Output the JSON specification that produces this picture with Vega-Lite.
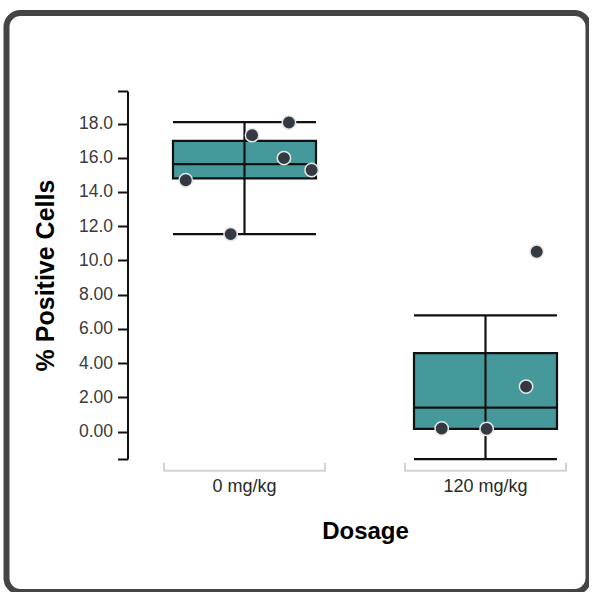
{
  "$schema": "https://vega.github.io/schema/vega-lite/v6.json",
  "autosize": "none",
  "padding": {"left": 6.5, "top": 13, "right": 0, "bottom": 0},
  "width": 582,
  "height": 579,
  "background": "white",
  "config": {
    "view": {"stroke": "#444444", "strokeWidth": 6, "cornerRadius": 14, "fill": "white"},
    "font": "Liberation Sans"
  },
  "datasets": {
    "boxes": [
      {"Dosage": "0 mg/kg", "lower": 11.54, "q1": 14.8, "median": 15.63, "q3": 16.99, "upper": 18.08},
      {"Dosage": "120 mg/kg", "lower": -1.61, "q1": 0.16, "median": 1.4, "q3": 4.58, "upper": 6.79}
    ],
    "points": [
      {"Dosage": "0 mg/kg", "value": 14.69, "jitter": -0.365},
      {"Dosage": "0 mg/kg", "value": 11.54, "jitter": -0.086},
      {"Dosage": "0 mg/kg", "value": 17.32, "jitter": 0.047},
      {"Dosage": "0 mg/kg", "value": 18.06, "jitter": 0.276},
      {"Dosage": "0 mg/kg", "value": 15.98, "jitter": 0.245},
      {"Dosage": "0 mg/kg", "value": 15.28, "jitter": 0.417},
      {"Dosage": "120 mg/kg", "value": 10.51, "jitter": 0.318},
      {"Dosage": "120 mg/kg", "value": 2.63, "jitter": 0.252},
      {"Dosage": "120 mg/kg", "value": 0.18, "jitter": -0.272},
      {"Dosage": "120 mg/kg", "value": 0.16, "jitter": 0.007}
    ]
  },
  "encoding": {
    "x": {
      "field": "Dosage",
      "type": "nominal",
      "sort": ["0 mg/kg", "120 mg/kg"],
      "scale": {"range": [157.5, 559.5], "paddingInner": 0.332, "paddingOuter": 0},
      "axis": {
        "title": "Dosage",
        "orient": "bottom",
        "offset": -121,
        "domain": false,
        "ticks": false,
        "labelAngle": 0,
        "labelFontSize": 18,
        "labelColor": "#2a2a2a",
        "labelPadding": 6,
        "titleFontSize": 24,
        "titleFontWeight": "bold",
        "titleColor": "#000000",
        "titlePadding": 24
      }
    }
  },
  "layer": [
    {
      "data": {"name": "boxes"},
      "mark": {"type": "bar", "fill": "transparent", "stroke": "#d3d3d3", "strokeWidth": 2, "size": 161, "strokeDash": [0, 161, 176.8, 0]},
      "encoding": {
        "y": {"datum": -1.82, "type": "quantitative"},
        "y2": {"datum": -2.28}
      }
    },
    {
      "data": {"name": "boxes"},
      "mark": {"type": "bar", "fill": "#45999a", "stroke": "#111111", "strokeWidth": 2.2, "size": 143},
      "encoding": {
        "y": {
          "field": "q1",
          "type": "quantitative",
          "scale": {"domain": [-1.6, 19.9], "range": [446, 78], "nice": false, "zero": false},
          "axis": {
            "title": "% Positive Cells",
            "values": [-1.6, 0, 2, 4, 6, 8, 10, 12, 14, 16, 18, 19.9],
            "labelExpr": "datum.value < -1 || datum.value > 19 ? '' : (datum.value >= 10 ? format(datum.value, '.1f') : format(datum.value, '.2f'))",
            "offset": -121,
            "grid": false,
            "domainColor": "#111111",
            "domainWidth": 2,
            "tickColor": "#111111",
            "tickWidth": 2,
            "tickSize": 10,
            "labelFontSize": 17.5,
            "labelColor": "#3a3a3a",
            "labelPadding": 5,
            "titleFontSize": 25,
            "titleFontWeight": "bold",
            "titleColor": "#000000",
            "titlePadding": 20
          }
        },
        "y2": {"field": "q3"}
      }
    },
    {
      "data": {"name": "boxes"},
      "mark": {"type": "rule", "color": "#111111", "strokeWidth": 2.2, "opacity": 1},
      "encoding": {
        "y": {"field": "lower", "type": "quantitative"},
        "y2": {"field": "upper"}
      }
    },
    {
      "data": {"name": "boxes"},
      "mark": {"type": "tick", "color": "#111111", "opacity": 1, "thickness": 2.2, "size": 143},
      "encoding": {"y": {"field": "lower", "type": "quantitative"}}
    },
    {
      "data": {"name": "boxes"},
      "mark": {"type": "tick", "color": "#111111", "opacity": 1, "thickness": 2.2, "size": 143},
      "encoding": {"y": {"field": "upper", "type": "quantitative"}}
    },
    {
      "data": {"name": "boxes"},
      "mark": {"type": "tick", "color": "#111111", "opacity": 1, "thickness": 2.2, "size": 143},
      "encoding": {"y": {"field": "median", "type": "quantitative"}}
    },
    {
      "data": {"name": "points"},
      "mark": {"type": "circle", "fill": "#343a42", "opacity": 1, "fillOpacity": 1, "stroke": "#e6e6e6", "strokeWidth": 1.5, "size": 180},
      "encoding": {
        "y": {"field": "value", "type": "quantitative"},
        "xOffset": {"field": "jitter", "type": "quantitative", "scale": {"domain": [-0.5, 0.5]}}
      }
    }
  ],
  "resolve": {"scale": {"y": "shared"}}
}
